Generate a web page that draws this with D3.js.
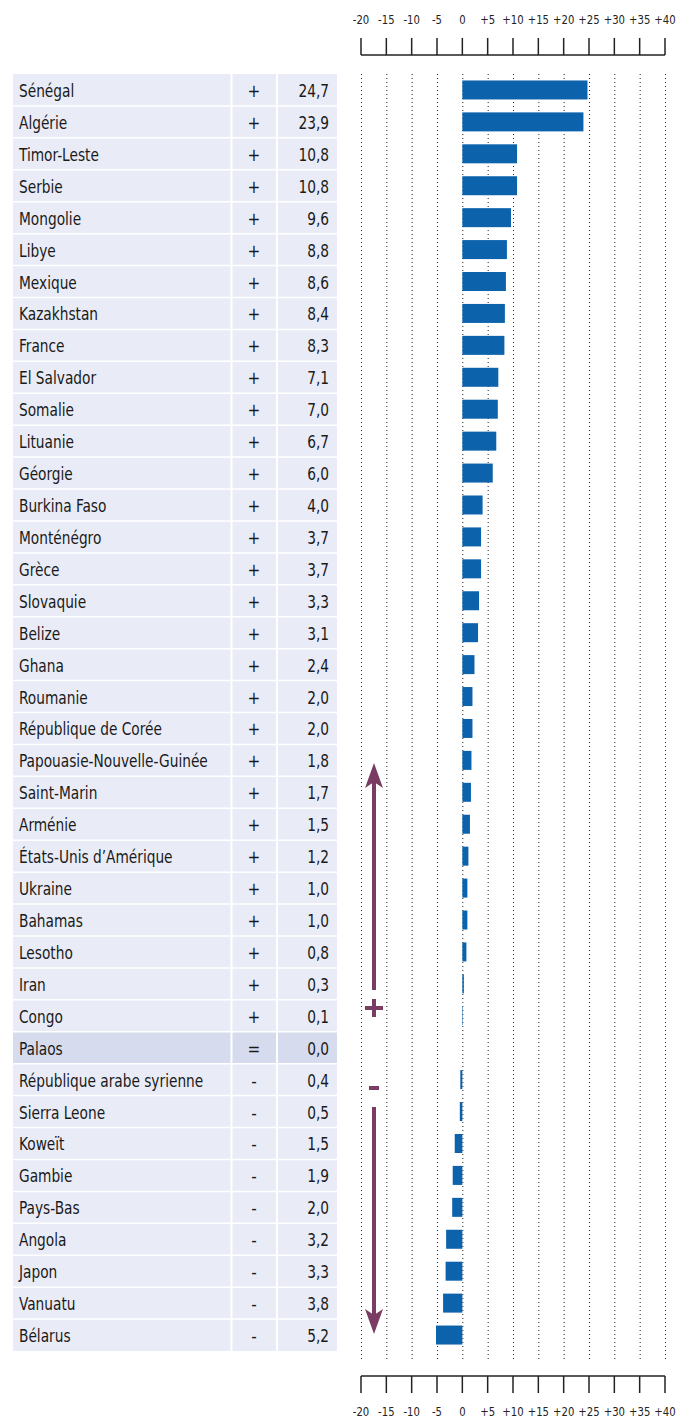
<!DOCTYPE html>
<html><head><meta charset="utf-8">
<script src="https://cdn.jsdelivr.net/npm/d3@7"></script>
<style>
html,body{margin:0;padding:0;background:#fff;}
svg{display:block;}
</style></head>
<body>
<script>
const countries = ["Sénégal","Algérie","Timor-Leste","Serbie","Mongolie","Libye","Mexique","Kazakhstan","France","El Salvador","Somalie","Lituanie","Géorgie","Burkina Faso","Monténégro","Grèce","Slovaquie","Belize","Ghana","Roumanie","République de Corée","Papouasie-Nouvelle-Guinée","Saint-Marin","Arménie","États-Unis d’Amérique","Ukraine","Bahamas","Lesotho","Iran","Congo","Palaos","République arabe syrienne","Sierra Leone","Koweït","Gambie","Pays-Bas","Angola","Japon","Vanuatu","Bélarus"];
const values = [24.7,23.9,10.8,10.8,9.6,8.8,8.6,8.4,8.3,7.1,7.0,6.7,6.0,4.0,3.7,3.7,3.3,3.1,2.4,2.0,2.0,1.8,1.7,1.5,1.2,1.0,1.0,0.8,0.3,0.1,0.0,-0.4,-0.5,-1.5,-1.9,-2.0,-3.2,-3.3,-3.8,-5.2];
const tickValues = [-20,-15,-10,-5,0,5,10,15,20,25,30,35,40];
const tickLabels = ["-20","-15","-10","-5","0","+5","+10","+15","+20","+25","+30","+35","+40"];

const W = 677, H = 1419;
const font = "'DejaVu Sans Condensed','DejaVu Sans',sans-serif";
const svg = d3.select("body").append("svg").attr("width", W).attr("height", H);

const x = d3.scaleLinear().domain([-20, 40]).range([361, 665]);
const y = d3.scaleBand().domain(countries).range([74, 1351]).paddingInner(0);

// measure condensing factor
const probe = svg.append("text").attr("font-family", font).attr("font-size", 17).text("Papouasie-Nouvelle-Guinée");
const sx = 189 / probe.node().getComputedTextLength();
probe.remove();

// table
const tbl = svg.append("g");
const rows = tbl.selectAll("g.row").data(countries).join("g").attr("class","row");
rows.append("rect")
  .attr("x", 13).attr("y", d => y(d)).attr("width", 324).attr("height", y.bandwidth())
  .attr("fill", d => d === "Palaos" ? "#d6dcee" : "#e9ecf7");
tbl.selectAll("line.hsep").data(countries.slice(1)).join("line")
  .attr("x1", 13).attr("x2", 337).attr("y1", d => y(d)).attr("y2", d => y(d))
  .attr("stroke", "#fff").attr("stroke-width", 1.5);
[231.5, 277].forEach(cx => tbl.append("line").attr("x1", cx).attr("x2", cx).attr("y1", 74).attr("y2", 1351).attr("stroke","#fff").attr("stroke-width",2));

rows.append("text")
  .attr("transform", d => `translate(19,${y(d) + y.bandwidth()/2 + 7}) scale(${sx},1)`)
  .attr("font-family", font).attr("font-size", 17).attr("fill", "#1a1a1a").text(d => d);
rows.append("text").attr("x", 254).attr("y", d => y(d) + y.bandwidth()/2 + 7)
  .attr("text-anchor","middle").attr("font-family", font).attr("font-size", 17).attr("fill", "#1a1a1a")
  .text((d,i) => values[i] > 0 ? "+" : values[i] < 0 ? "-" : "=");
rows.append("text")
  .attr("transform", d => `translate(329,${y(d) + y.bandwidth()/2 + 7}) scale(${sx},1)`)
  .attr("text-anchor","end").attr("font-family", font).attr("font-size", 17).attr("fill", "#1a1a1a")
  .text((d,i) => Math.abs(values[i]).toFixed(1).replace(".", ","));

// gridlines
svg.append("g").selectAll("line").data(tickValues).join("line")
  .attr("x1", d => x(d)+0.5).attr("x2", d => x(d)+0.5).attr("y1", 74).attr("y2", 1362)
  .attr("stroke", "#222").attr("stroke-width", 1).attr("stroke-dasharray", "1,3");

// bars
svg.append("g").selectAll("rect").data(values).join("rect")
  .attr("x", d => x(Math.min(0, d))).attr("width", d => Math.abs(x(d) - x(0)))
  .attr("y", (d,i) => y(countries[i]) + (y.bandwidth()-19)/2).attr("height", 19)
  .attr("fill", "#0d62ac");

// axes
function drawAxis(base, dir) {
  const g = svg.append("g");
  g.append("line").attr("x1", x(-20)).attr("x2", x(40)).attr("y1", base).attr("y2", base)
    .attr("stroke", "#222").attr("stroke-width", 1.5);
  g.selectAll("line.t").data(tickValues).join("line").attr("class","t")
    .attr("x1", d => x(d)).attr("x2", d => x(d)).attr("y1", base).attr("y2", base + dir*17)
    .attr("stroke", "#222").attr("stroke-width", 1.5);
  g.selectAll("text").data(tickValues).join("text")
    .attr("transform", d => `translate(${x(d)},${dir < 0 ? base - 31 : base + 40}) scale(${sx},1)`)
    .attr("text-anchor","middle").attr("font-family", font).attr("font-size", 12.5).attr("fill","#222")
    .text((d,i) => tickLabels[i]);
}
drawAxis(55, -1);
drawAxis(1376, 1);

// arrows
const ac = "#7b3c63";
const ax = 374;
const a = svg.append("g");
a.append("line").attr("x1", ax).attr("x2", ax).attr("y1", 780).attr("y2", 990).attr("stroke", ac).attr("stroke-width", 4);
a.append("path").attr("d", `M${ax},763 L${ax-9},788 L${ax},782 L${ax+9},788 Z`).attr("fill", ac);
a.append("line").attr("x1", ax-9).attr("x2", ax+9).attr("y1", 1008).attr("y2", 1008).attr("stroke", ac).attr("stroke-width", 4);
a.append("line").attr("x1", ax).attr("x2", ax).attr("y1", 999).attr("y2", 1017).attr("stroke", ac).attr("stroke-width", 4);
a.append("line").attr("x1", ax-5).attr("x2", ax+5).attr("y1", 1088).attr("y2", 1088).attr("stroke", ac).attr("stroke-width", 4);
a.append("line").attr("x1", ax).attr("x2", ax).attr("y1", 1107).attr("y2", 1316).attr("stroke", ac).attr("stroke-width", 4);
a.append("path").attr("d", `M${ax},1334 L${ax-9},1309 L${ax},1315 L${ax+9},1309 Z`).attr("fill", ac);
</script>
</body></html>
